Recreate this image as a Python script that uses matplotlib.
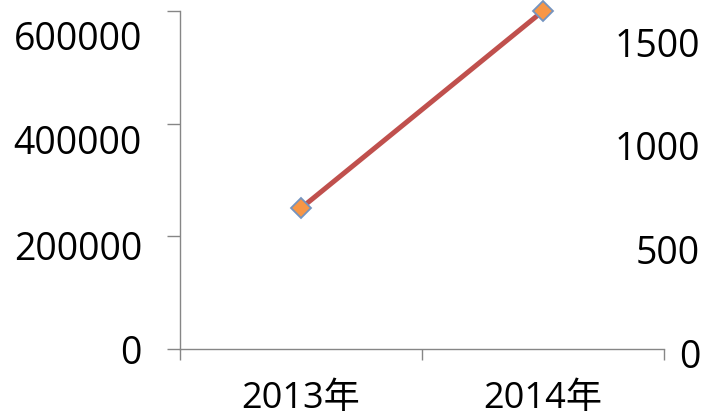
import matplotlib
matplotlib.use('Agg')
import matplotlib.pyplot as plt

# datos del grafico
categorias = ['2013年', '2014年']
valores = [250000, 600000]
ticks_izq = [0, 200000, 400000, 600000]
ticks_der = [0, 500, 1000, 1500]

plt.rcParams['font.family'] = ['Open Sans', 'Noto Sans CJK SC']
plt.rcParams['font.size'] = 27

W, H = 706, 417
gris = '#868686'

fig = plt.figure(figsize=(W / 100, H / 100), dpi=100)

# ejes principales (linea, ejes y marcas)
x0, x1, y_top, y_bot = 180, 664, 11, 349
ax = fig.add_axes([x0 / W, (H - y_bot) / H, (x1 - x0) / W, (y_bot - y_top) / H])
xs = [i + 0.5 for i in range(len(categorias))]
ax.plot(xs, valores, color='#C0504D', lw=3.6, marker='D', ms=10.5,
        mfc='#F79646', mec='#7494C0', mew=1.3, zorder=3, clip_on=False)
ax.set_xlim(0, len(categorias))
ax.set_ylim(0, 600000)
ax.set_yticks(ticks_izq)
ax.set_yticklabels([])
ax.set_xticks(range(len(categorias) + 1))
ax.set_xticklabels([])
ax.set_xticks(xs, minor=True)
ax.set_xticklabels(categorias, minor=True, fontsize=26)
ax.tick_params(axis='y', which='major', length=9.5, width=1, color=gris, direction='out')
ax.tick_params(axis='x', which='major', length=8, width=1, color=gris, direction='out')
ax.tick_params(axis='x', which='minor', length=0, pad=23)
for s in ['top', 'right']:
    ax.spines[s].set_visible(False)
for s in ['left', 'bottom']:
    ax.spines[s].set_color(gris)
    ax.spines[s].set_linewidth(1)
ax.patch.set_visible(False)

# etiquetas del eje izquierdo (desplazadas como en el original)
lb, lt = 350, 35
axl = fig.add_axes([x0 / W, (H - lb) / H, 0.001, (lb - lt) / H])
axl.set_ylim(0, 600000)
axl.set_yticks(ticks_izq)
axl.set_yticklabels([str(t) for t in ticks_izq])
axl.tick_params(axis='y', length=0, pad=27.4)
axl.set_xticks([])
for s in axl.spines.values():
    s.set_visible(False)
axl.patch.set_visible(False)

# etiquetas del eje derecho
rb, rt = 353, 42
axr = fig.add_axes([x1 / W - 0.001, (H - rb) / H, 0.001, (rb - rt) / H])
axr.set_ylim(0, 1500)
axr.yaxis.tick_right()
axr.set_yticks(ticks_der)
axr.set_yticklabels([str(t) for t in ticks_der])
axr.tick_params(axis='y', length=0, pad=26)
for lab in axr.get_yticklabels():
    lab.set_horizontalalignment('right')
axr.set_xticks([])
for s in axr.spines.values():
    s.set_visible(False)
axr.patch.set_visible(False)

fig.savefig('out.png', dpi=100)
